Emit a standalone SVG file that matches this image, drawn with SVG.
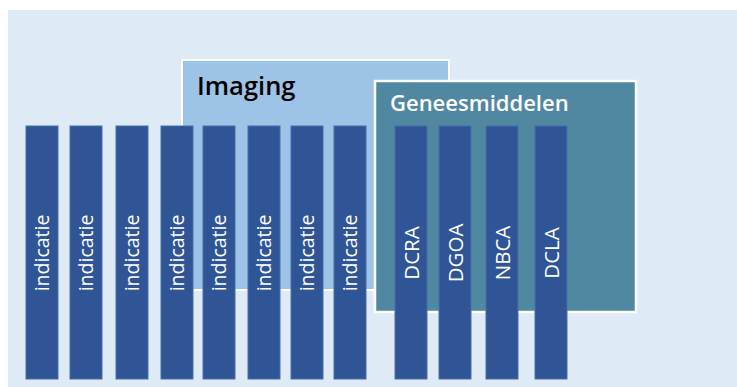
<svg xmlns="http://www.w3.org/2000/svg" width="737" height="387" viewBox="0 0 737 387">
<style>
.bar{fill:#2F5597;stroke:#4A6FA8;stroke-width:1}
.lbl{font-family:"Open Sans","Liberation Sans",sans-serif;font-size:19.5px;fill:#FFFFFF;text-anchor:middle}
.caps{font-size:20.5px}
.title{font-family:"Open Sans","Liberation Sans",sans-serif;font-weight:600}
</style>
<rect x="0" y="0" width="737" height="387" fill="#FFFFFF"/>
<rect id="panel" x="8" y="10" width="729" height="377" fill="#DEEAF6"/>
<g id="imaging">
<rect x="182" y="60" width="267" height="230" fill="#9DC3E6" stroke="#FFFFFF" stroke-width="2"/>
<text class="title" x="197" y="95" font-size="25.5" fill="#000000">Imaging</text>
</g>
<g id="geneesmiddelen">
<rect x="375" y="81" width="261" height="231" fill="#4F88A0" stroke="#FFFFFF" stroke-width="2.5"/>
<text class="title" x="390" y="111" font-size="22" fill="#FFFFFF">Geneesmiddelen</text>
</g>
<g id="indicatie1"><rect class="bar" x="26" y="126" width="32" height="253"/><text class="lbl" transform="translate(48.5,253) rotate(-90)">indicatie</text></g>
<g id="indicatie2"><rect class="bar" x="70" y="126" width="32" height="253"/><text class="lbl" transform="translate(92.5,253) rotate(-90)">indicatie</text></g>
<g id="indicatie3"><rect class="bar" x="116" y="126" width="32" height="253"/><text class="lbl" transform="translate(138.5,253) rotate(-90)">indicatie</text></g>
<g id="indicatie4"><rect class="bar" x="161" y="126" width="32" height="253"/><text class="lbl" transform="translate(183.5,253) rotate(-90)">indicatie</text></g>
<g id="indicatie5"><rect class="bar" x="203" y="126" width="32" height="253"/><text class="lbl" transform="translate(225.5,253) rotate(-90)">indicatie</text></g>
<g id="indicatie6"><rect class="bar" x="248" y="126" width="32" height="253"/><text class="lbl" transform="translate(270.5,253) rotate(-90)">indicatie</text></g>
<g id="indicatie7"><rect class="bar" x="291" y="126" width="32" height="253"/><text class="lbl" transform="translate(313.5,253) rotate(-90)">indicatie</text></g>
<g id="indicatie8"><rect class="bar" x="334" y="126" width="32" height="253"/><text class="lbl" transform="translate(356.5,253) rotate(-90)">indicatie</text></g>
<g id="DCRA"><rect class="bar" x="395" y="126" width="32" height="253"/><text class="lbl caps" transform="translate(419,253) rotate(-90)">DCRA</text></g>
<g id="DGOA"><rect class="bar" x="439" y="126" width="32" height="253"/><text class="lbl caps" transform="translate(463,253) rotate(-90)">DGOA</text></g>
<g id="NBCA"><rect class="bar" x="486" y="126" width="32" height="253"/><text class="lbl caps" transform="translate(510,253) rotate(-90)">NBCA</text></g>
<g id="DCLA"><rect class="bar" x="535" y="126" width="32" height="253"/><text class="lbl caps" transform="translate(559,253) rotate(-90)">DCLA</text></g>
<g id="connectors"></g>
</svg>
